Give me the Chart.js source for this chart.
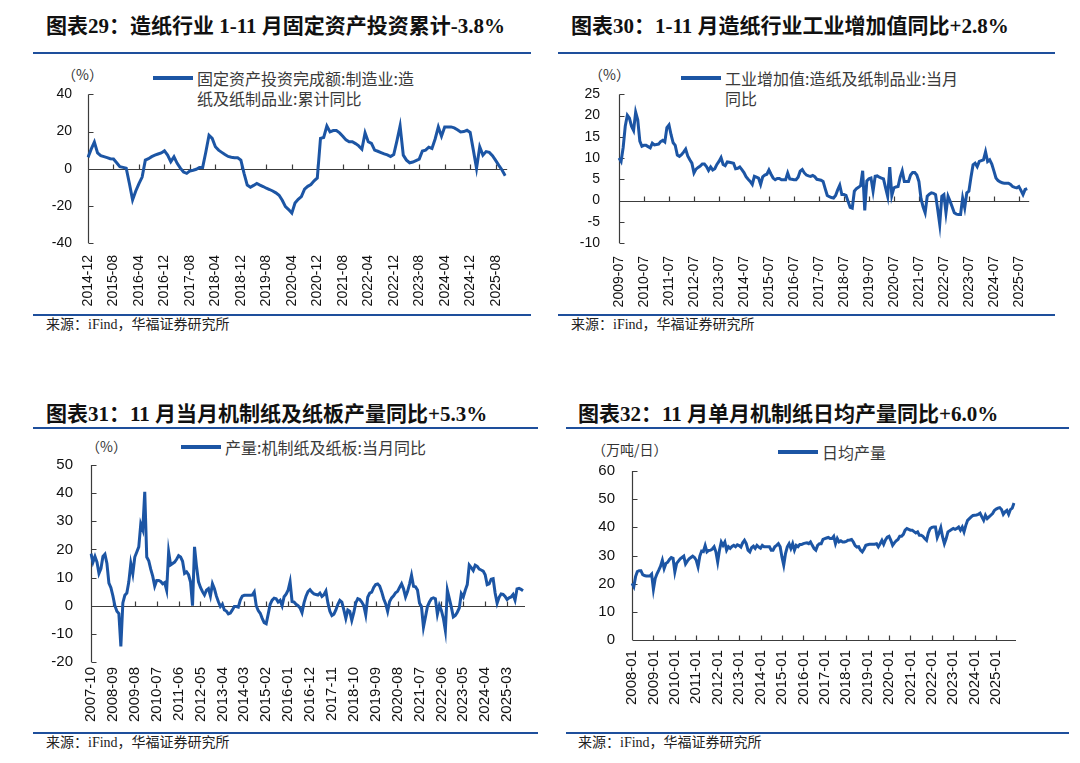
<!DOCTYPE html>
<html>
<head>
<meta charset="utf-8">
<script src="https://cdn.jsdelivr.net/npm/chart.js@4.4.1/dist/chart.umd.min.js"></script>
<style>
body { margin: 0; background: #fff; }
#page { position: relative; width: 1080px; height: 763px; overflow: hidden; font-family: "Liberation Sans", "Noto Sans CJK SC", sans-serif; }
.title { position: absolute; font-family: "Liberation Serif", "Noto Sans CJK SC", serif; font-weight: bold; font-size: 21px; line-height: 26px; color: #111; white-space: nowrap; }
.rule { position: absolute; height: 2px; background: #1e4f9c; }
.src { position: absolute; font-family: "Liberation Serif", "Noto Sans CJK SC", serif; font-size: 14px; line-height: 18px; color: #222; white-space: nowrap; }
.unit { position: absolute; font-family: "Noto Sans CJK SC", sans-serif; font-size: 14px; line-height: 18px; color: #333; white-space: nowrap; }
.legend { position: absolute; font-family: "Noto Sans CJK SC", sans-serif; font-size: 16px; line-height: 20px; color: #3a3a3a; white-space: nowrap; }
.legend i { position: absolute; left: 0; top: 8px; width: 40px; height: 4px; background: #1c55a4; }
.legend span { display: block; margin-left: 44px; }
canvas { position: absolute; }
</style>
</head>
<body>
<div id="page">
  <div class="title" style="left:46px;top:13px">图表29：造纸行业 1-11 月固定资产投资累计-3.8%</div>
  <div class="rule" style="left:33px;top:52px;width:498px"></div>
  <div class="unit" style="left:62px;top:65px">（%）</div>
  <div class="legend" id="lg1" style="left:153px;top:68px"></div>
  <div class="rule" style="left:33px;top:314px;width:498px"></div>
  <div class="src" style="left:46px;top:316px">来源：iFind，华福证券研究所</div>

  <div class="title" style="left:571px;top:13px">图表30：1-11 月造纸行业工业增加值同比+2.8%</div>
  <div class="rule" style="left:558px;top:52px;width:497px"></div>
  <div class="unit" style="left:589px;top:65px">（%）</div>
  <div class="legend" id="lg2" style="left:681px;top:68px"></div>
  <div class="rule" style="left:558px;top:314px;width:497px"></div>
  <div class="src" style="left:571px;top:316px">来源：iFind，华福证券研究所</div>

  <div class="title" style="left:46px;top:401px">图表31：11 月当月机制纸及纸板产量同比+5.3%</div>
  <div class="rule" style="left:33px;top:427px;width:505px"></div>
  <div class="unit" style="left:86px;top:437px">（%）</div>
  <div class="legend" id="lg3" style="left:181px;top:437px"></div>
  <div class="rule" style="left:33px;top:732px;width:505px"></div>
  <div class="src" style="left:46px;top:734px">来源：iFind，华福证券研究所</div>

  <div class="title" style="left:578px;top:401px">图表32：11 月单月机制纸日均产量同比+6.0%</div>
  <div class="rule" style="left:566px;top:427px;width:503px"></div>
  <div class="unit" style="left:592px;top:440px">（万吨/日）</div>
  <div class="legend" id="lg4" style="left:778px;top:442px"></div>
  <div class="rule" style="left:566px;top:732px;width:503px"></div>
  <div class="src" style="left:578px;top:734px">来源：iFind，华福证券研究所</div>

  <canvas id="c1" width="487" height="234"></canvas>
  <canvas id="c2" width="478" height="234"></canvas>
  <canvas id="c3" width="502" height="282"></canvas>
  <canvas id="c4" width="452" height="254"></canvas>
</div>
<script>
// 固定资产投资完成额:制造业:造纸及纸制品业:累计同比 (%), 2014-12 起
var faiYoy = [
  6.1, 10.5, 14.3, 8.5, 7.0, 6.5, 6.0, 5.4, 5.2, 3.2,
  1.1, 0.7, 0.3, -8.0, -16.8, -12.0, -8.0, -4.5, 4.6, 5.4,
  6.5, 7.3, 7.9, 8.5, 9.6, 7.3, 3.8, 6.4, 2.9, 0.3,
  -1.8, -2.5, -1.2, -0.8, -0.3, 0.7, 0.7, 9.0, 18.0, 16.3,
  11.8, 10.0, 8.8, 7.6, 6.6, 6.2, 5.9, 5.9, 4.6, -2.5,
  -8.8, -10.0, -9.0, -7.9, -8.8, -9.6, -10.5, -11.2, -12.0, -13.0,
  -14.3, -17.0, -20.4, -22.0, -23.9, -18.5, -16.5, -15.0, -11.0, -9.5,
  -8.5, -6.5, -5.0, 16.3, 16.8, 23.0, 19.8, 20.5, 20.5, 19.3,
  17.5, 15.5, 14.5, 14.5, 13.5, 12.3, 10.5, 19.3, 14.5, 13.6,
  10.0, 9.4, 8.7, 8.0, 7.4, 6.5, 7.6, 15.0, 23.0, 7.3,
  4.6, 3.2, 3.6, 4.4, 5.2, 9.5, 10.0, 11.6, 10.9, 16.0,
  22.5, 17.5, 22.5, 22.5, 22.5, 22.0, 21.0, 19.8, 20.0, 20.7,
  19.5, 10.0, 0.2, 11.8, 7.3, 9.2, 8.8, 7.0, 4.5, 1.8,
  -0.7, -3.8
];

// 工业增加值:造纸及纸制品业:当月同比 (%), 2009-07 起
var ivaYoy = [
  10.0, 9.2, 12.5, 17.5, 20.1, 19.4, 17.5, 16.5, 20.8, 19.0,
  14.0, 12.8, 13.0, 13.0, 12.7, 12.4, 13.5, 13.1, 13.2, 13.3,
  13.9, 14.2, 13.8, 17.2, 17.8, 15.5, 13.6, 13.0, 10.7, 10.4,
  10.8, 11.4, 12.1, 10.5, 9.6, 8.8, 6.5, 7.4, 7.8, 8.1,
  8.6, 8.6, 8.0, 7.1, 7.9, 7.2, 7.5, 8.5, 9.2, 10.1,
  8.5, 8.2, 9.1, 9.0, 8.9, 8.8, 7.5, 7.6, 7.9, 7.3,
  6.6, 5.6, 5.0, 4.5, 3.8, 5.7, 5.5, 5.3, 3.8, 5.6,
  6.0, 6.2, 7.2, 6.2, 5.3, 4.9, 5.2, 5.2, 4.9, 4.9,
  4.9, 6.5, 5.1, 5.0, 4.9, 4.9, 5.5, 6.9, 7.3, 6.5,
  6.0, 5.8, 5.7, 5.9, 5.6, 5.0, 4.9, 4.8, 4.5, 2.8,
  1.2, 0.9, 0.7, 0.6, 1.2, 2.5, 3.6, 1.4, 1.4, 1.2,
  -0.2, -1.6, -1.8, 2.2, 2.8, 3.1, 3.5, 7.0, -2.3, 4.6,
  5.1, 5.3, 2.2, 5.7, 5.8, 5.5, 5.3, 5.1, 3.0, 1.0,
  7.9, 1.2, 3.0, 3.2, 3.3, 5.5, 7.0, 4.5, 4.5, 4.5,
  6.0, 6.6, 6.6, 6.0, 4.5, 0.5, -1.5, -2.9, 1.0, 1.5,
  1.8, 1.7, 1.4, -2.0, -5.6, 1.0, 1.4, -2.9, 1.0, -0.2,
  -1.5, -2.9, -3.2, -3.3, -3.3, 0.6, -1.7, 1.8, 2.2, 5.5,
  8.4, 8.8, 8.0, 9.2, 9.4, 9.6, 11.5, 9.2, 9.6, 8.6,
  7.0, 5.3, 4.7, 4.4, 4.2, 4.1, 4.1, 4.1, 3.8, 3.3,
  3.1, 3.0, 3.3, 2.4, 1.4, 2.6, 2.8
];

// 产量:机制纸及纸板:当月同比 (%), 2007-10 起
var paperYoy = [
  18.5, 15.5, 17.5, 15.5, 11.5, 13.2, 17.5, 18.3, 15.0, 8.0,
  6.4, 3.5, 0.0, -2.0, -2.8, -14.5, 1.0, 3.7, 4.5, 8.5,
  15.0, 11.4, 17.3, 19.1, 20.9, 29.0, 27.0, 40.5, 17.3, 16.0,
  13.0, 10.5, 7.0, 9.0, 9.0, 8.6, 7.8, 8.2, 5.5, 19.1,
  14.5, 15.0, 15.5, 16.5, 17.8, 17.3, 15.8, 11.5, 12.0, 11.0,
  8.4, 0.0, 20.9, 14.0, 8.5, 6.5, 5.0, 3.8, 5.5, 6.1,
  3.5, 7.8, 6.0, 3.4, 1.4, -0.3, 0.5, -1.5, -1.9, -2.9,
  -2.6, -1.5, -0.3, -0.3, -0.5, 2.0, 3.4, 3.7, 3.7, 3.7,
  3.7, 3.8, 4.9, 0.0, -1.7, -2.7, -4.5, -6.0, -6.4, -3.0,
  0.5, 2.0, 2.7, 2.5, 1.3, 1.9, 0.0, 3.2, 4.1, 5.5,
  8.5, 1.5, 1.3, 0.5, 0.0, -0.8, -2.5, 1.0, 3.4, 5.0,
  5.7, 4.8, 4.2, 4.0, 3.8, 4.5, 3.3, 3.9, 5.2, 1.0,
  -2.0, -3.5, -3.0, -1.5, 0.5, 1.9, 1.3, -1.5, -4.5, -1.5,
  -2.0, -5.2, -2.5, 1.0, 2.5, 2.2, 1.3, 0.1, -3.2, 3.0,
  4.5, 4.8, 6.5, 7.5, 7.7, 7.0, 5.0, 2.5, 0.7, -2.0,
  1.5, 2.8, 3.5, 4.6, 5.1, 6.5, 7.8, 6.0, 3.1, 5.0,
  7.7, 10.8, 6.9, 6.7, 5.6, 1.0, -0.3, -7.6, -4.0, -0.3,
  1.3, 2.5, 2.8, 2.5, -3.0, 0.1, -1.7, -4.5, -8.8, 5.5,
  2.5, -0.5, -4.0, -3.5, -2.3, -0.8, 4.3, 3.1, 5.5, 7.5,
  14.4, 13.5, 12.5, 14.4, 14.0, 13.0, 12.7, 12.3, 11.0, 7.5,
  7.8, 9.4, 9.6, 4.5, 0.9, 3.0, 4.2, 4.0, 3.3, 2.2,
  2.8, 3.1, 4.0, 2.0, 6.0, 6.2, 5.8, 5.3
];

// 日均产量 (万吨/日), 2008-01 起
var dailyOutput = [
  20.1, 18.9, 22.5, 24.3, 24.6, 24.6, 23.2, 22.9, 22.7, 22.7,
  22.7, 23.4, 18.0, 21.8, 23.5, 24.8, 26.2, 28.3, 25.4, 27.2,
  27.6, 28.6, 29.3, 29.0, 24.2, 27.2, 28.0, 28.8, 29.3, 29.8,
  27.0, 28.0, 28.8, 29.3, 29.8, 29.3, 28.3, 26.0, 29.8, 31.6,
  31.4, 33.5, 31.3, 31.8, 31.9, 32.3, 33.1, 31.3, 27.7, 31.9,
  34.8, 33.6, 34.8, 31.9, 33.1, 32.5, 33.2, 33.6, 33.1, 33.8,
  33.5, 33.0, 34.5, 35.4, 34.2, 31.9, 31.3, 32.8, 33.3, 32.5,
  33.6, 33.0, 32.6, 33.6, 33.1, 33.1, 33.1, 33.1, 31.9, 31.9,
  33.1, 33.6, 34.2, 33.1, 29.5, 26.6, 30.7, 33.1, 34.2, 32.5,
  34.2, 31.9, 33.6, 33.1, 33.9, 33.9, 34.2, 34.4, 34.5, 34.2,
  34.8, 33.6, 32.5, 31.9, 33.6, 34.2, 34.2, 35.7, 36.0, 36.2,
  36.4, 36.0, 36.0, 36.8, 34.2, 36.0, 34.8, 35.2, 34.8, 34.8,
  35.0, 35.4, 35.5, 35.7, 34.8, 33.5, 33.0, 33.1, 31.9, 31.3,
  32.3, 33.6, 33.8, 34.0, 34.0, 34.0, 34.0, 34.2, 33.1, 34.2,
  35.4, 34.0, 35.5, 36.5, 36.8, 35.4, 33.6, 34.5, 35.2, 35.7,
  36.8, 36.8, 37.5, 39.0, 39.6, 39.3, 39.0, 39.0, 38.5, 38.0,
  38.4, 37.2, 37.2, 36.8, 36.0, 35.4, 38.0, 39.5, 40.0, 40.1,
  40.1, 36.4, 38.0, 39.9, 36.6, 34.2, 36.0, 38.4, 38.8, 39.2,
  39.6, 39.3, 39.6, 40.1, 39.0, 40.1, 38.4, 40.7, 42.5, 43.1,
  43.7, 44.2, 44.3, 44.4, 44.6, 45.0, 43.7, 42.5, 44.3, 43.1,
  43.7, 44.3, 44.9, 46.0, 46.5, 46.8, 47.0, 46.3, 44.6, 45.5,
  46.0, 44.6, 46.3, 46.8, 48.6
];

var legend1 = ['固定资产投资完成额:制造业:造', '纸及纸制品业:累计同比'];
var legend2 = ['工业增加值:造纸及纸制品业:当月', '同比'];
var legend3 = ['产量:机制纸及纸板:当月同比'];
var legend4 = ['日均产量'];

// 月份标签
function months(year, month, n) {
  var out = [];
  for (var k = 0; k < n; k++) {
    var m = (month - 1 + k) % 12 + 1;
    var y = year + Math.floor((month - 1 + k) / 12);
    out.push(y + '-' + (m < 10 ? '0' + m : m));
  }
  return out;
}

var BLUE = '#1c55a4';

// 坐标轴：左轴、零线、向内的刻度
var axisDecor = {
  id: 'axisDecor',
  beforeDatasetsDraw: function (chart, args, o) {
    var ctx = chart.ctx, a = chart.chartArea, x = chart.scales.x, y = chart.scales.y;
    var base = Math.round(y.getPixelForValue(o.base)) + 0.5;
    var left = Math.round(a.left) + 0.5;
    ctx.save();
    ctx.strokeStyle = '#3c3c3c';
    ctx.lineWidth = 1.2;
    ctx.beginPath();
    ctx.moveTo(left, a.top);
    ctx.lineTo(left, a.bottom);
    y.ticks.forEach(function (t) {
      var py = Math.round(y.getPixelForValue(t.value)) + 0.5;
      ctx.moveTo(left, py);
      ctx.lineTo(left + 5, py);
    });
    ctx.moveTo(left, base);
    ctx.lineTo(a.right + 2, base);
    for (var i = o.step; i < chart.data.labels.length; i += o.step) {
      var px = Math.round(x.getPixelForValue(i)) + 0.5;
      ctx.moveTo(px, base);
      ctx.lineTo(px, base - 5);
    }
    ctx.stroke();
    ctx.restore();
  }
};

function config(labels, values, legendLines, cfg) {
  return {
    type: 'line',
    data: {
      labels: labels,
      datasets: [{
        label: legendLines.join(''),
        data: values,
        borderColor: BLUE,
        borderWidth: 3,
        pointRadius: 0,
        tension: 0,
        fill: false
      }]
    },
    options: {
      responsive: false,
      maintainAspectRatio: false,
      animation: false,
      layout: { padding: { top: 10, right: 10, left: 0, bottom: 0 } },
      plugins: { legend: { display: false }, tooltip: { enabled: false }, axisDecor: { base: cfg.min < 0 ? 0 : cfg.min, step: cfg.step } },
      scales: {
        x: {
          type: 'category',
          offset: false,
          grid: { display: false, drawTicks: false },
          border: { display: false },
          ticks: {
            autoSkip: false,
            minRotation: 90,
            maxRotation: 90,
            padding: cfg.xPad,
            color: '#111',
            font: { family: 'Liberation Sans', size: cfg.font },
            callback: function (v, i) { return i % cfg.step === 0 ? labels[i] : ''; }
          },
          afterFit: function (s) { s.height = 75; }
        },
        y: {
          min: cfg.min,
          max: cfg.max,
          grid: { display: false, drawTicks: false },
          border: { display: false },
          ticks: {
            autoSkip: false,
            stepSize: cfg.yStep,
            padding: cfg.yPad,
            color: '#111',
            font: { family: 'Liberation Sans', size: cfg.font }
          },
          afterFit: function (s) { s.width = 60; }
        }
      }
    },
    plugins: [axisDecor]
  };
}

// 画图，然后把画布挪到让绘图区落在 cfg.area 上
function makeChart(id, labels, values, legendLines, cfg) {
  document.getElementById(cfg.legendId).innerHTML = '<i></i><span>' + legendLines.join('<br>') + '</span>';
  var cv = document.getElementById(id);
  var want = cfg.area;
  var chart = new Chart(cv, config(labels, values, legendLines, cfg));
  for (var pass = 0; pass < 2; pass++) {
    var a = chart.chartArea;
    var mL = a.left, mT = a.top, mR = chart.width - a.right, mB = chart.height - a.bottom;
    chart.destroy();
    cv.width = Math.round(want[2] - want[0] + mL + mR);
    cv.height = Math.round(want[3] - want[1] + mT + mB);
    cv.style.left = Math.round(want[0] - mL) + 'px';
    cv.style.top = Math.round(want[1] - mT) + 'px';
    chart = new Chart(cv, config(labels, values, legendLines, cfg));
  }
  return chart;
}

makeChart('c1', months(2014, 12, faiYoy.length), faiYoy, legend1,
  { legendId: 'lg1', area: [88, 94, 505, 243], min: -40, max: 40, yStep: 20, step: 8, xPad: 12, yPad: 16, font: 14 });
makeChart('c2', months(2009, 7, ivaYoy.length), ivaYoy, legend2,
  { legendId: 'lg2', area: [619, 94, 1027, 243], min: -10, max: 25, yStep: 5, step: 12, xPad: 13, yPad: 19, font: 14 });
makeChart('c3', months(2007, 10, paperYoy.length), paperYoy, legend3,
  { legendId: 'lg3', area: [91, 465, 523, 662], min: -20, max: 50, yStep: 10, step: 11, xPad: 5, yPad: 18, font: 15 });
makeChart('c4', months(2008, 1, dailyOutput.length), dailyOutput, legend4,
  { legendId: 'lg4', area: [632, 471, 1014, 640], min: 0, max: 60, yStep: 10, step: 12, xPad: 10, yPad: 17, font: 15 });
</script>
</body>
</html>
